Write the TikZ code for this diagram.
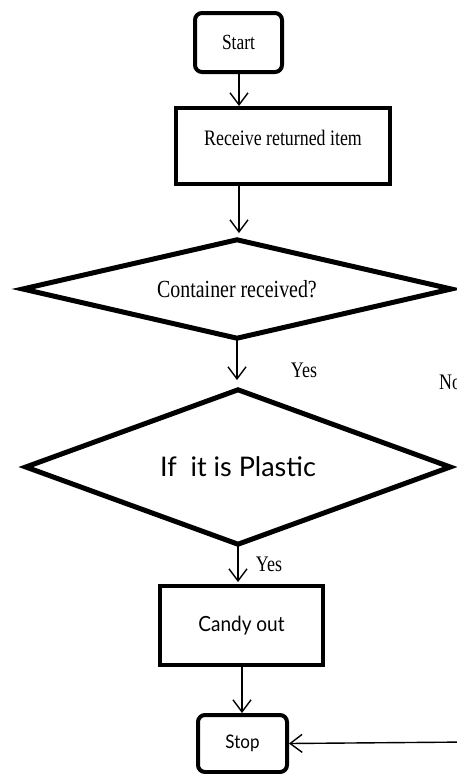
\documentclass[tikz,border=0pt]{standalone}
\usepackage{fontspec}
\setmainfont{Liberation Serif}
\newfontfamily\gill{Lato}
\usetikzlibrary{arrows.meta}
\newcommand\tallt[1]{\scalebox{0.97}[1.2]{#1}}
\tikzset{
  box/.style={draw, line width=4pt, inner sep=0pt},
  roundbox/.style={draw, line width=4pt, rounded corners=7pt, inner sep=0pt},
  decisionarea/.style={rectangle, inner sep=0pt},
  decisionline/.style={line width=5pt, line join=miter, miter limit=20},
  arr/.style={line width=1.4pt, -{Straight Barb[length=12pt,width=18pt,line width=1.4pt]}},
  lbl/.style={inner sep=0pt, font=\fontsize{18.5}{21}\selectfont}
}
\begin{document}
\begin{tikzpicture}[x=1pt,y=-1pt]
\useasboundingbox (0,0) rectangle (457,774);
\clip (0,0) rectangle (457,774);
\fill[white] (0,0) rectangle (457,774);

\node[roundbox, minimum width=87pt, minimum height=59pt, font=\fontsize{18}{21}\selectfont] (start) at (238.5,42.5) {\tallt{Start}};
\node[box, minimum width=214pt, minimum height=76pt, font=\fontsize{18.4}{21}\selectfont] (recv) at (283,146) {\raisebox{16pt}{\tallt{Receive returned item}}};
\node[decisionarea, minimum width=428pt, minimum height=98pt, font=\fontsize{20.5}{23}\selectfont] (d1) at (237,289) {\tallt{Container received?}};
\draw[decisionline] (d1.west) -- (d1.north) -- (d1.east) -- (d1.south) -- cycle;
\node[decisionarea, minimum width=424pt, minimum height=154pt, font=\gill\fontsize{27}{30}\selectfont] (d2) at (238,467) {If~~it is Plastic};
\draw[decisionline] (d2.west) -- (d2.north) -- (d2.east) -- (d2.south) -- cycle;
\node[box, minimum width=163pt, minimum height=79pt, font=\gill\fontsize{19}{22}\selectfont] (candy) at (241.5,625.5) {\raisebox{-3pt}{\scalebox{1}[1.1]{Candy out}}};
\node[roundbox, minimum width=89pt, minimum height=57pt, font=\gill\fontsize{17}{20}\selectfont] (stop) at (242.5,743.5) {\scalebox{1}[1.1]{Stop}};

\coordinate (noin) at (470,742);

\node[lbl] (yes1) at (304,370) {\tallt{Yes}};
\node[lbl, anchor=west] (no1) at (439,382) {\tallt{No}};
\node[lbl] (yes2) at (269,564) {\tallt{Yes}};

\draw[arr] (start.south -| 239,0) -- (239,106);
\draw[arr] (recv.south -| 239,0) -- (239,233);
\draw[arr] (d1.south) -- (d1.south |- 0,380);
\draw[arr] (d2.south) -- (d2.south |- 0,582);
\draw[arr] (candy.south -| 242,0) -- (stop.north -| 242,0);
\draw[arr] (noin) -- (stop.east);
\end{tikzpicture}
\end{document}
